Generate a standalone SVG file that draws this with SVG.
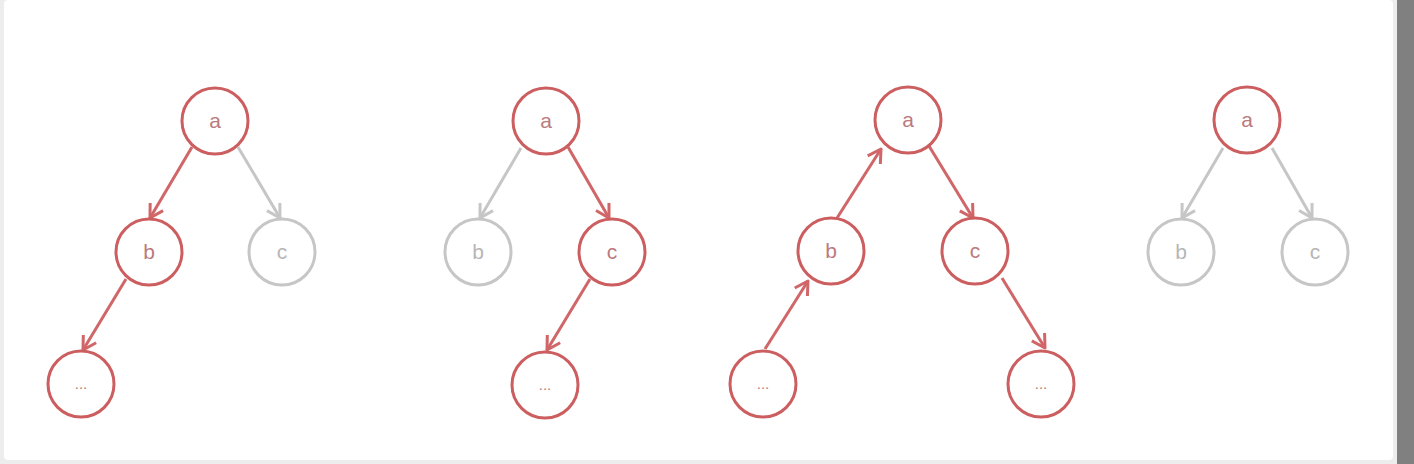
<svg xmlns="http://www.w3.org/2000/svg" width="1414" height="464" viewBox="0 0 1414 464">
<defs>
<style>
.nr{fill:#fff;stroke:#cc5e60;stroke-width:3}
.ng{fill:#fff;stroke:#c6c6c6;stroke-width:3}
.tr{fill:#bb7a7e;font-family:"Liberation Sans",Arial,sans-serif;font-size:21px;text-anchor:middle}
.tg{fill:#b6b6b6;font-family:"Liberation Sans",Arial,sans-serif;font-size:21px;text-anchor:middle}
.td{font-size:15px}
.er{stroke:#d06668;stroke-width:3;fill:none;marker-end:url(#ar)}
.eg{stroke:#c6c6c6;stroke-width:3;fill:none;marker-end:url(#ag)}
</style>
<marker id="ar" markerUnits="userSpaceOnUse" markerWidth="30" markerHeight="30" refX="0" refY="0" viewBox="-15 -15 30 30" orient="auto" overflow="visible">
<path d="M-13,-7.5 L0,0 L-13,7.5" fill="none" stroke="#d06668" stroke-width="3" stroke-linejoin="round"/>
</marker>
<marker id="ag" markerUnits="userSpaceOnUse" markerWidth="30" markerHeight="30" refX="0" refY="0" viewBox="-15 -15 30 30" orient="auto" overflow="visible">
<path d="M-13,-7.5 L0,0 L-13,7.5" fill="none" stroke="#c6c6c6" stroke-width="3" stroke-linejoin="round"/>
</marker>
</defs>
<rect x="0" y="0" width="1414" height="464" fill="#ededed"/>
<rect x="4" y="0" width="1389" height="460" rx="4" fill="#ffffff"/>
<rect x="1397" y="0" width="17" height="464" fill="#808080"/>

<g id="connectors">
<line class="er" x1="192" y1="147" x2="150" y2="218"/>
<line class="eg" x1="238" y1="147" x2="280" y2="218"/>
<line class="er" x1="126" y1="279" x2="83" y2="350"/>

<line class="eg" x1="521" y1="148" x2="480" y2="218"/>
<line class="er" x1="568" y1="147" x2="609" y2="218"/>
<line class="er" x1="590" y1="279" x2="547" y2="350"/>

<line class="er" x1="765" y1="349" x2="808" y2="281"/>
<line class="er" x1="837" y1="218" x2="881" y2="149"/>
<line class="er" x1="929" y1="146" x2="973" y2="218"/>
<line class="er" x1="1002" y1="278" x2="1045" y2="348"/>

<line class="eg" x1="1223" y1="148" x2="1182" y2="218"/>
<line class="eg" x1="1272" y1="148" x2="1312" y2="218"/>
</g>

<g id="t1-a"><circle class="nr" cx="215" cy="121" r="33"/><text class="tr" x="215" y="128">a</text></g>
<g id="t1-b"><circle class="nr" cx="149" cy="252" r="33"/><text class="tr" x="149" y="259">b</text></g>
<g id="t1-c"><circle class="ng" cx="282" cy="252" r="33"/><text class="tg" x="282" y="259">c</text></g>
<g id="t1-d"><circle class="nr" cx="81" cy="384" r="33"/><text class="tr td" x="81" y="389">...</text></g>

<g id="t2-a"><circle class="nr" cx="546" cy="121" r="33"/><text class="tr" x="546" y="128">a</text></g>
<g id="t2-b"><circle class="ng" cx="478" cy="252" r="33"/><text class="tg" x="478" y="259">b</text></g>
<g id="t2-c"><circle class="nr" cx="612" cy="252" r="33"/><text class="tr" x="612" y="259">c</text></g>
<g id="t2-d"><circle class="nr" cx="545" cy="385" r="33"/><text class="tr td" x="545" y="390">...</text></g>

<g id="t3-a"><circle class="nr" cx="908" cy="120" r="33"/><text class="tr" x="908" y="127">a</text></g>
<g id="t3-b"><circle class="nr" cx="831" cy="251" r="33"/><text class="tr" x="831" y="258">b</text></g>
<g id="t3-c"><circle class="nr" cx="975" cy="251" r="33"/><text class="tr" x="975" y="258">c</text></g>
<g id="t3-dl"><circle class="nr" cx="763" cy="384" r="33"/><text class="tr td" x="763" y="389">...</text></g>
<g id="t3-dr"><circle class="nr" cx="1041" cy="384" r="33"/><text class="tr td" x="1041" y="389">...</text></g>

<g id="t4-a"><circle class="nr" cx="1247" cy="120" r="33"/><text class="tr" x="1247" y="127">a</text></g>
<g id="t4-b"><circle class="ng" cx="1181" cy="252" r="33"/><text class="tg" x="1181" y="259">b</text></g>
<g id="t4-c"><circle class="ng" cx="1315" cy="252" r="33"/><text class="tg" x="1315" y="259">c</text></g>
</svg>
